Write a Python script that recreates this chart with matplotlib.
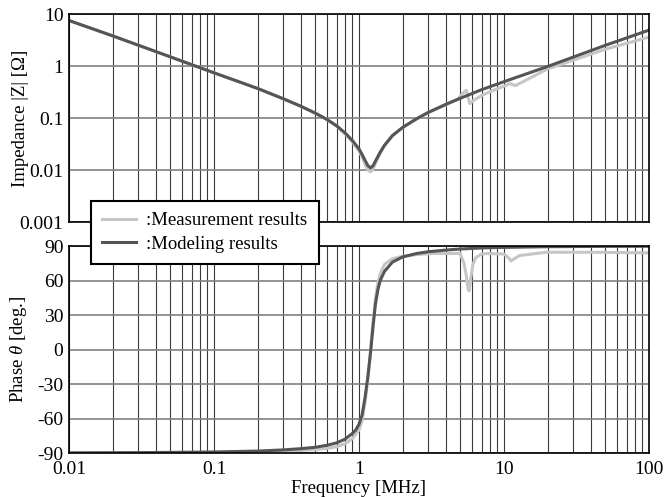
import numpy as np
import matplotlib.pyplot as plt
from matplotlib.ticker import FixedLocator, LogLocator, NullFormatter, FixedFormatter

plt.rcParams['font.family'] = ['Liberation Serif', 'DejaVu Serif']
plt.rcParams['mathtext.fontset'] = 'custom'
plt.rcParams['mathtext.it'] = 'Liberation Serif:italic'
plt.rcParams['mathtext.rm'] = 'Liberation Serif'
plt.rcParams['axes.unicode_minus'] = False

# ---- data ----
# impedance |Z| [ohm]
f_z_model = [0.01, 0.02, 0.05, 0.1, 0.2, 0.3, 0.4, 0.5, 0.6, 0.7, 0.8, 0.9, 1.0,
             1.05, 1.1, 1.15, 1.2, 1.25, 1.3, 1.4, 1.5, 1.7, 2.0, 2.5, 3.0, 4.0,
             5.0, 7.0, 10, 20, 50, 100]
z_model = [7.5, 3.8, 1.5, 0.74, 0.37, 0.235, 0.167, 0.124, 0.094, 0.071, 0.052, 0.037,
           0.0255, 0.020, 0.0154, 0.0122, 0.011, 0.0121, 0.0149, 0.022, 0.030, 0.046,
           0.066, 0.097, 0.128, 0.185, 0.24, 0.35, 0.5, 0.98, 2.5, 4.9]

f_z_meas = [0.01, 0.02, 0.05, 0.1, 0.2, 0.3, 0.4, 0.5, 0.6, 0.7, 0.8, 0.9, 1.0,
            1.05, 1.1, 1.15, 1.2, 1.25, 1.3, 1.4, 1.5, 1.7, 2.0, 2.5, 3.0, 4.0,
            4.8, 5.2, 5.5, 5.8, 6.2, 7.0, 8.0, 10, 11, 12, 20, 50, 100]
z_meas = [7.5, 3.8, 1.5, 0.74, 0.37, 0.235, 0.167, 0.124, 0.094, 0.070, 0.050, 0.035,
          0.023, 0.018, 0.013, 0.010, 0.0092, 0.0105, 0.0135, 0.021, 0.029, 0.045,
          0.065, 0.096, 0.127, 0.18, 0.23, 0.30, 0.34, 0.19, 0.22, 0.27, 0.32, 0.41,
          0.46, 0.42, 0.88, 2.1, 3.6]

# phase [deg]
f_p_model = [0.01, 0.03, 0.1, 0.2, 0.3, 0.4, 0.5, 0.6, 0.7, 0.8, 0.9, 0.95, 1.0,
             1.05, 1.1, 1.15, 1.2, 1.25, 1.3, 1.35, 1.4, 1.5, 1.7, 2.0, 2.5, 3.0,
             4.0, 5.0, 7.0, 10, 20, 50, 100]
p_model = [-89.9, -89.7, -89.1, -88.3, -87.3, -86.2, -85.0, -83.3, -81.2, -78.0,
           -73.0, -70.0, -65.0, -57.0, -42.0, -24.0, -3.0, 20.0, 40.0, 52.0, 60.0,
           68.0, 76.0, 80.5, 83.5, 85.0, 86.5, 87.4, 88.3, 88.8, 89.4, 89.7, 89.8]

f_p_meas = [0.01, 0.1, 0.2, 0.3, 0.5, 0.6, 0.7, 0.8, 0.9, 1.0, 1.05, 1.1, 1.15,
            1.2, 1.25, 1.3, 1.35, 1.4, 1.5, 1.7, 2.0, 2.5, 3.2, 4.98, 5.3, 5.5,
            5.65, 5.75, 5.9, 6.1, 6.4, 7.0, 7.5, 10, 10.7, 11.2, 11.8, 12.8, 19.7,
            50, 100]
p_meas = [-90.0, -89.5, -89.0, -88.5, -87.0, -86.0, -84.5, -82.0, -77.5, -70.0,
          -62.0, -46.0, -27.0, -2.0, 24.0, 45.0, 58.0, 66.0, 74.0, 79.0, 81.0, 82.5,
          83.5, 83.5, 75.0, 64.0, 53.0, 51.0, 62.0, 74.0, 80.0, 83.0, 83.5, 83.0,
          80.0, 77.0, 79.0, 81.7, 84.6, 84.5, 84.0]

light = '#c6c6c6'
dark = '#555555'

fig = plt.figure(figsize=(6.64, 4.97), dpi=100)
ax1 = fig.add_axes([0.1039, 0.5533, 0.8735, 0.4185])
ax2 = fig.add_axes([0.1039, 0.0885, 0.8735, 0.4165])

for ax in (ax1, ax2):
    ax.set_xscale('log')
    ax.set_xlim(0.01, 100)
    ax.xaxis.set_major_locator(FixedLocator([0.01, 0.1, 1, 10, 100]))
    ax.xaxis.set_minor_locator(LogLocator(base=10, subs=np.arange(2, 10)))
    ax.xaxis.set_minor_formatter(NullFormatter())
    ax.grid(True, axis='x', which='both', color='#3a3a3a', lw=0.8)
    ax.grid(True, axis='y', which='major', color='#808080', lw=1.2)
    ax.tick_params(which='both', length=0, labelsize=14, pad=4)
    for s in ax.spines.values():
        s.set_color('black')
        s.set_linewidth(1.2)
    ax.set_axisbelow(True)

# impedance
ax1.plot(f_z_meas, z_meas, color=light, lw=2.2)
ax1.plot(f_z_model, z_model, color=dark, lw=2.2)
ax1.set_yscale('log')
ax1.set_ylim(0.001, 10)
ax1.yaxis.set_major_locator(FixedLocator([0.001, 0.01, 0.1, 1, 10]))
ax1.yaxis.set_major_formatter(FixedFormatter(['0.001', '0.01', '0.1', '1', '10']))
ax1.yaxis.set_minor_locator(FixedLocator([]))
ax1.set_xticklabels([])
ax1.set_ylabel('Impedance |Z| [\u03a9]', fontsize=13.5)
ax1.yaxis.set_label_coords(-0.069, 0.5)

# phase
ax2.plot(f_p_meas, p_meas, color=light, lw=2.2, label=':Measurement results')
ax2.plot(f_p_model, p_model, color=dark, lw=2.2, label=':Modeling results')
ax2.set_ylim(-90, 90)
ax2.set_yticks([-90, -60, -30, 0, 30, 60, 90])
ax2.set_xticklabels(['0.01', '0.1', '1', '10', '100'])
ax2.tick_params(axis='x', pad=6)
ax2.set_ylabel(r'Phase $\theta$ [deg.]', fontsize=13.5)
ax2.yaxis.set_label_coords(-0.069, 0.5)
ax2.set_xlabel('Frequency [MHz]', fontsize=13.5, labelpad=1)

h, l = ax2.get_legend_handles_labels()
leg = fig.legend(h, l, loc='upper left', bbox_to_anchor=(0.137, 0.596),
                 borderaxespad=0, fontsize=13.5, frameon=True, fancybox=False,
                 framealpha=1, edgecolor='black', handlelength=1.8,
                 handletextpad=0.55, borderpad=0.6, labelspacing=0.35)
leg.get_frame().set_linewidth(1.5)

fig.savefig('out.png', dpi=100)
